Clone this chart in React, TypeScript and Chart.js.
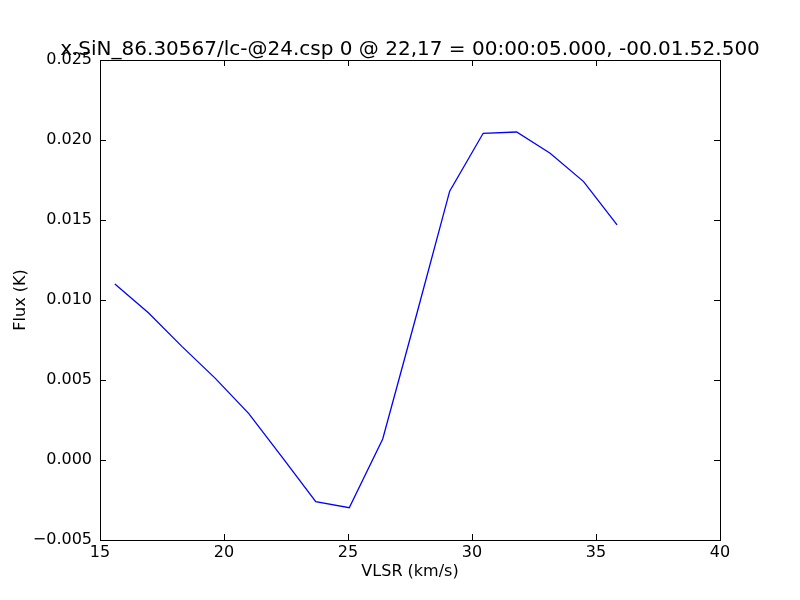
import React, { useEffect, useRef } from "react";
import { Chart, registerables } from "chart.js";

Chart.register(...registerables);

const TITLE = "x.SiN_86.30567/lc-@24.csp 0 @ 22,17 = 00:00:05.000, -00.01.52.500";
const X_LABEL = "VLSR (km/s)";
const Y_LABEL = "Flux (K)";

const velocity = [15.6, 16.95, 18.3, 19.65, 21.0, 22.35, 23.7, 25.05, 26.4, 27.75, 29.1, 30.45, 31.8, 33.15, 34.5, 35.85];
const flux = [0.0110, 0.0092, 0.0071, 0.0051, 0.0029, 0.00016, -0.00261, -0.00298, 0.00131, 0.0090, 0.0168, 0.02042, 0.0205, 0.01917, 0.0174, 0.01469];

const X_MIN = 15, X_MAX = 40, X_STEP = 5;
const Y_MIN = -0.005, Y_MAX = 0.025, Y_STEP = 0.005;

const FONT = "'DejaVu Sans', sans-serif";

const frameTicks = {
  id: "frameTicks",
  afterDraw(chart: any) {
    const { ctx, chartArea: a, scales } = chart;
    const len = 6;
    ctx.save();
    ctx.strokeStyle = "#000";
    ctx.lineWidth = 1;
    ctx.beginPath();
    const xs = scales.x;
    xs.ticks.forEach((t: any) => {
      const px = Math.round(xs.getPixelForValue(t.value)) + 0.5;
      ctx.moveTo(px, a.bottom); ctx.lineTo(px, a.bottom - len);
      ctx.moveTo(px, a.top); ctx.lineTo(px, a.top + len);
    });
    const ys = scales.y;
    ys.ticks.forEach((t: any) => {
      const py = Math.round(ys.getPixelForValue(t.value)) + 0.5;
      ctx.moveTo(a.left, py); ctx.lineTo(a.left + len, py);
      ctx.moveTo(a.right, py); ctx.lineTo(a.right - len, py);
    });
    ctx.stroke();
    ctx.strokeRect(Math.round(a.left) + 0.5, Math.round(a.top) + 0.5, Math.round(a.right - a.left), Math.round(a.bottom - a.top));
    // title, centred over the plot area, allowed to extend past it
    ctx.fillStyle = "#000";
    ctx.font = `20px ${FONT}`;
    ctx.textAlign = "center";
    ctx.textBaseline = "alphabetic";
    ctx.fillText(TITLE, (a.left + a.right) / 2, a.top - 5);
    ctx.restore();
  },
};

export default function App() {
  const ref = useRef<HTMLCanvasElement>(null);
  useEffect(() => {
    document.body.style.margin = "0";
    const chart = new Chart(ref.current!, {
      type: "line",
      data: {
        datasets: [
          {
            data: velocity.map((v, i) => ({ x: v, y: flux[i] })),
            borderColor: "#0000ff",
            borderWidth: 1.3,
            pointRadius: 0,
            tension: 0,
            fill: false,
          },
        ],
      },
      options: {
        responsive: false,
        animation: false,
        layout: { padding: { left: 0, right: 80, top: 60, bottom: 0 } },
        plugins: {
          legend: { display: false },
          tooltip: { enabled: false },
          title: { display: false },
        },
        scales: {
          x: {
            type: "linear",
            min: X_MIN,
            max: X_MAX,
            grid: { display: false, drawTicks: false },
            border: { display: false },
            ticks: { stepSize: X_STEP, color: "#000", font: { family: FONT, size: 16 }, padding: 3, maxRotation: 0 },
            title: { display: true, text: X_LABEL, color: "#000", font: { family: FONT, size: 16 }, padding: { top: 0, bottom: 19 } },
            afterFit: (s: any) => { s.height = 60; },
          },
          y: {
            type: "linear",
            min: Y_MIN,
            max: Y_MAX,
            grid: { display: false, drawTicks: false },
            border: { display: false },
            ticks: {
              stepSize: Y_STEP,
              color: "#000",
              font: { family: FONT, size: 16 },
              padding: 8,
              callback: (v: any) => {
                const n = Number(v);
                if (Math.abs(n) < 1e-9) return "0.000";
                return (n < 0 ? "\u2212" : "") + Math.abs(n).toFixed(3);
              },
            },
            title: { display: true, text: Y_LABEL, color: "#000", font: { family: FONT, size: 16 }, padding: { top: 11.4, bottom: 0 } },
            afterFit: (s: any) => { s.width = 100; },
          },
        },
      },
      plugins: [frameTicks],
    });
    return () => chart.destroy();
  }, []);
  return <canvas ref={ref} width={800} height={600} />;
}
